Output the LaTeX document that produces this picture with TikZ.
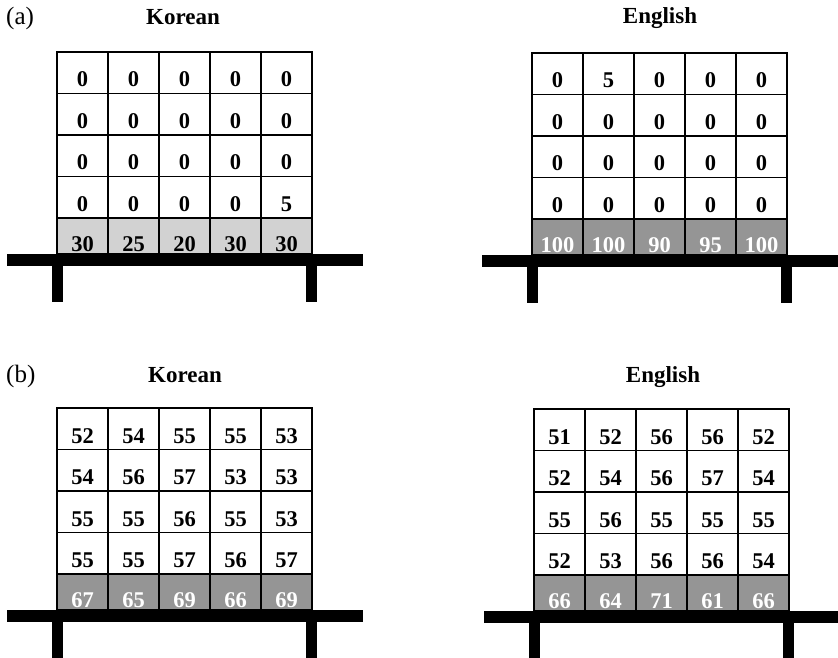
\documentclass[tikz,border=0pt]{standalone}
\usepackage{fontspec}
\setmainfont{Liberation Serif}
\definecolor{lightshelf}{HTML}{D2D2D2}
\definecolor{darkshelf}{HTML}{959595}
\tikzset{
  num/.style={font=\fontsize{22.5}{25}\selectfont\bfseries, anchor=base, inner sep=0pt},
  title/.style={font=\fontsize{23}{26}\selectfont\bfseries, anchor=base, inner sep=0pt},
  tag/.style={font=\fontsize{25}{28}\selectfont, anchor=base west, inner sep=0pt},
  gridline/.style={line width=1.2pt, black},
}
\newcommand\drawpanel[8]{%
  % #1 name, #2 x0, #3 y0, #4 shelf fill, #5 shelf text colour, #6 20 values, #7 5 values, #8 leg bottom
  \fill[#4] (#2,#3+166) rectangle (#2+255,#3+202);
  \foreach \k in {1,2,3,4} {\draw[gridline] (#2,#3+41.5*\k) -- (#2+255,#3+41.5*\k);}
  \foreach \k in {1,2,3,4} {\draw[gridline] (#2+51*\k,#3) -- (#2+51*\k,#3+202);}
  \draw[gridline] (#2,#3) rectangle (#2+255,#3+202);
  \foreach \v [count=\i from 0] in {#6} {
    \pgfmathtruncatemacro\cc{mod(\i,5)}
    \pgfmathtruncatemacro\rr{div(\i,5)}
    \node[num] (#1-\rr-\cc) at (#2+\cc*51+25.5, #3+\rr*41.5+35) {\v};
  }
  \foreach \v [count=\i from 0] in {#7} {
    \node[num, text=#5] (#1-s-\i) at (#2+\i*51+25.5, #3+199) {\v};
  }
  \fill[black] (#2-50,#3+202) rectangle (#2+306,#3+214);
  \fill[black] (#2-5,#3+214) rectangle (#2+6,#8);
  \fill[black] (#2+249,#3+214) rectangle (#2+260,#8);
}
\begin{document}
\begin{tikzpicture}[x=1pt,y=-1pt]
\useasboundingbox[fill=white] (0,0) rectangle (838,658);
\node[tag] (taga) at (6,25) {(a)};
\node[title] (ak) at (183,25) {Korean};
\node[title] (ae) at (660,24) {English};
\node[tag] (tagb) at (6,382) {(b)};
\node[title] (bk) at (185,382) {Korean};
\node[title] (be) at (663,382) {English};
\drawpanel{AK}{57}{52}{lightshelf}{black}
  {0,0,0,0,0, 0,0,0,0,0, 0,0,0,0,0, 0,0,0,0,5}{30,25,20,30,30}{302}
\drawpanel{AE}{532}{53}{darkshelf}{white}
  {0,5,0,0,0, 0,0,0,0,0, 0,0,0,0,0, 0,0,0,0,0}{100,100,90,95,100}{303}
\drawpanel{BK}{57}{408}{darkshelf}{white}
  {52,54,55,55,53, 54,56,57,53,53, 55,55,56,55,53, 55,55,57,56,57}{67,65,69,66,69}{658}
\drawpanel{BE}{534}{409}{darkshelf}{white}
  {51,52,56,56,52, 52,54,56,57,54, 55,56,55,55,55, 52,53,56,56,54}{66,64,71,61,66}{658}
\end{tikzpicture}
\end{document}
